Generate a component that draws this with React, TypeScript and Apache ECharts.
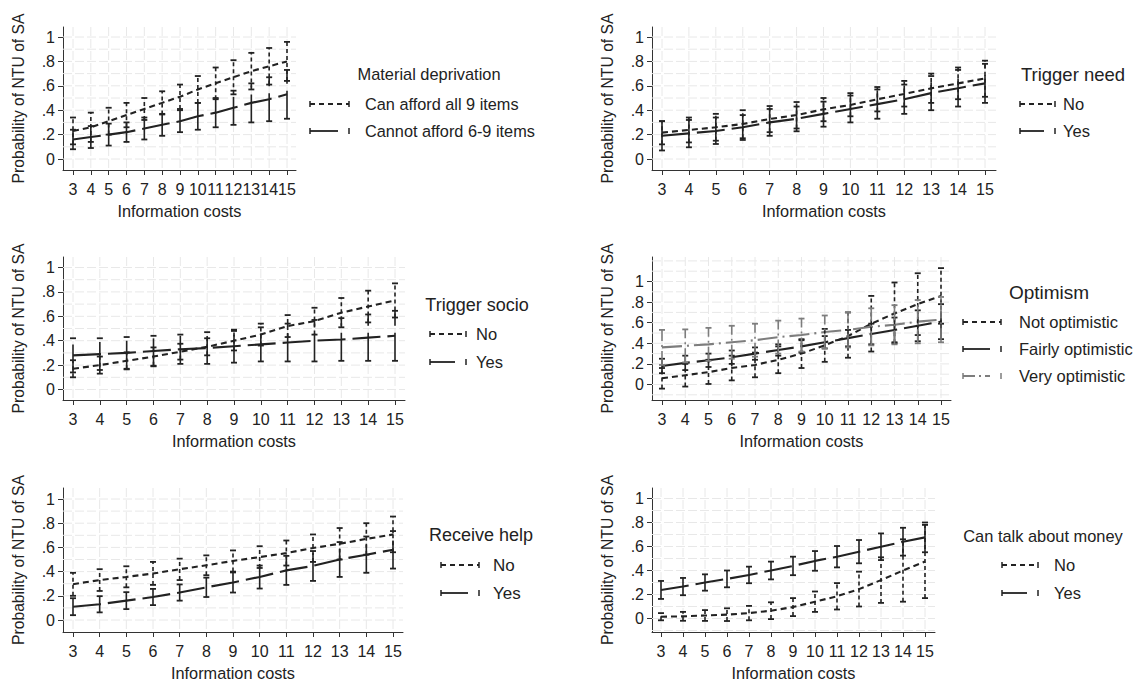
import React, { useEffect, useRef } from 'react';
import * as echarts from 'echarts';

// ---------- data ----------
const xValues = [3, 4, 5, 6, 7, 8, 9, 10, 11, 12, 13, 14, 15];
const yTickValues = [0, 0.2, 0.4, 0.6, 0.8, 1];

// Panel 1: Material deprivation
const p1AffordMid = [0.23, 0.26, 0.31, 0.36, 0.41, 0.46, 0.51, 0.57, 0.62, 0.67, 0.72, 0.76, 0.8];
const p1AffordLo = [0.12, 0.14, 0.2, 0.26, 0.32, 0.365, 0.41, 0.46, 0.49, 0.53, 0.57, 0.61, 0.64];
const p1AffordHi = [0.34, 0.38, 0.42, 0.46, 0.5, 0.555, 0.61, 0.68, 0.75, 0.81, 0.87, 0.91, 0.96];
const p1CannotMid = [0.16, 0.18, 0.2, 0.22, 0.25, 0.28, 0.31, 0.35, 0.38, 0.42, 0.46, 0.49, 0.53];
const p1CannotLo = [0.08, 0.09, 0.11, 0.14, 0.16, 0.19, 0.22, 0.24, 0.26, 0.28, 0.3, 0.31, 0.33];
const p1CannotHi = [0.24, 0.27, 0.29, 0.3, 0.34, 0.37, 0.4, 0.46, 0.5, 0.56, 0.62, 0.67, 0.73];

// Panel 2: Trigger need
const p2NoMid = [0.216, 0.238, 0.26, 0.287, 0.328, 0.36, 0.407, 0.443, 0.49, 0.533, 0.579, 0.62, 0.66];
const p2NoLo = [0.12, 0.136, 0.15, 0.17, 0.22, 0.25, 0.31, 0.35, 0.39, 0.43, 0.46, 0.49, 0.51];
const p2NoHi = [0.31, 0.34, 0.37, 0.4, 0.434, 0.467, 0.5, 0.54, 0.59, 0.64, 0.7, 0.75, 0.806];
const p2YesMid = [0.19, 0.21, 0.23, 0.26, 0.3, 0.33, 0.37, 0.41, 0.45, 0.49, 0.54, 0.58, 0.62];
const p2YesLo = [0.07, 0.096, 0.123, 0.156, 0.19, 0.227, 0.265, 0.3, 0.33, 0.37, 0.4, 0.43, 0.46];
const p2YesHi = [0.31, 0.32, 0.34, 0.36, 0.41, 0.43, 0.47, 0.52, 0.57, 0.61, 0.68, 0.73, 0.78];

// Panel 3: Trigger socio
const p3NoMid = [0.17, 0.2, 0.235, 0.27, 0.31, 0.35, 0.4, 0.45, 0.52, 0.56, 0.63, 0.68, 0.73];
const p3NoLo = [0.1, 0.13, 0.165, 0.195, 0.245, 0.28, 0.32, 0.36, 0.43, 0.45, 0.51, 0.55, 0.59];
const p3NoHi = [0.24, 0.27, 0.305, 0.345, 0.375, 0.42, 0.48, 0.54, 0.61, 0.67, 0.75, 0.81, 0.87];
const p3YesMid = [0.28, 0.29, 0.3, 0.315, 0.33, 0.34, 0.355, 0.37, 0.385, 0.4, 0.41, 0.425, 0.44];
const p3YesLo = [0.14, 0.16, 0.17, 0.19, 0.21, 0.21, 0.22, 0.23, 0.23, 0.23, 0.235, 0.235, 0.235];
const p3YesHi = [0.42, 0.42, 0.43, 0.44, 0.45, 0.47, 0.49, 0.51, 0.54, 0.57, 0.585, 0.615, 0.645];

// Panel 4: Optimism
const p4NotMid = [0.06, 0.09, 0.12, 0.16, 0.19, 0.24, 0.3, 0.38, 0.47, 0.59, 0.69, 0.78, 0.86];
const p4NotLo = [-0.04, -0.02, 0.005, 0.04, 0.07, 0.11, 0.16, 0.22, 0.26, 0.32, 0.4, 0.48, 0.59];
const p4NotHi = [0.16, 0.2, 0.24, 0.28, 0.31, 0.37, 0.44, 0.54, 0.7, 0.86, 0.99, 1.08, 1.13];
const p4FairMid = [0.18, 0.21, 0.235, 0.265, 0.3, 0.335, 0.37, 0.41, 0.45, 0.49, 0.53, 0.57, 0.61];
const p4FairLo = [0.11, 0.14, 0.17, 0.2, 0.24, 0.28, 0.31, 0.35, 0.37, 0.39, 0.41, 0.42, 0.44];
const p4FairHi = [0.25, 0.28, 0.3, 0.33, 0.36, 0.39, 0.43, 0.47, 0.53, 0.59, 0.65, 0.72, 0.78];
const p4VeryMid = [0.36, 0.375, 0.39, 0.41, 0.43, 0.46, 0.48, 0.51, 0.53, 0.56, 0.58, 0.61, 0.63];
const p4VeryLo = [0.19, 0.215, 0.23, 0.25, 0.27, 0.3, 0.32, 0.35, 0.36, 0.38, 0.39, 0.4, 0.41];
const p4VeryHi = [0.53, 0.535, 0.55, 0.57, 0.59, 0.62, 0.64, 0.67, 0.7, 0.74, 0.77, 0.82, 0.85];

// Panel 5: Receive help
const p5NoMid = [0.296, 0.33, 0.356, 0.384, 0.42, 0.452, 0.488, 0.52, 0.553, 0.595, 0.63, 0.67, 0.707];
const p5NoLo = [0.2, 0.24, 0.27, 0.29, 0.33, 0.37, 0.4, 0.43, 0.45, 0.48, 0.5, 0.54, 0.56];
const p5NoHi = [0.39, 0.42, 0.444, 0.48, 0.507, 0.534, 0.575, 0.61, 0.657, 0.707, 0.76, 0.8, 0.855];
const p5YesMid = [0.11, 0.13, 0.16, 0.19, 0.227, 0.27, 0.31, 0.356, 0.41, 0.447, 0.5, 0.54, 0.58];
const p5YesLo = [0.04, 0.063, 0.09, 0.123, 0.16, 0.19, 0.227, 0.26, 0.29, 0.323, 0.356, 0.39, 0.425];
const p5YesHi = [0.18, 0.197, 0.23, 0.257, 0.294, 0.35, 0.393, 0.45, 0.53, 0.57, 0.644, 0.69, 0.735];

// Panel 6: Can talk about money
const p6NoMid = [0.015, 0.018, 0.025, 0.032, 0.045, 0.065, 0.095, 0.14, 0.185, 0.245, 0.32, 0.4, 0.475];
const p6NoLo = [-0.015, -0.019, -0.02, -0.021, -0.015, -0.005, 0.02, 0.055, 0.075, 0.1, 0.13, 0.14, 0.17];
const p6NoHi = [0.045, 0.055, 0.07, 0.085, 0.105, 0.135, 0.17, 0.225, 0.295, 0.39, 0.51, 0.66, 0.78];
const p6YesMid = [0.238, 0.266, 0.3, 0.33, 0.363, 0.4, 0.438, 0.48, 0.515, 0.557, 0.598, 0.64, 0.676];
const p6YesLo = [0.163, 0.194, 0.232, 0.26, 0.294, 0.326, 0.361, 0.398, 0.426, 0.46, 0.487, 0.524, 0.552];
const p6YesHi = [0.313, 0.338, 0.368, 0.4, 0.432, 0.474, 0.515, 0.562, 0.604, 0.654, 0.709, 0.756, 0.8];

// ---------- styling ----------
const FONT = '"Liberation Sans", Arial, Helvetica, sans-serif';
const INK = '#222222';
const GRAY = '#7d7d7d';
const GRID_C = '#e8e8e8';

type Pattern = 'dash' | 'long' | 'ldot';
const linePatterns: Record<Pattern, number[]> = {
  dash: [6, 4],
  long: [28, 7],
  ldot: [20, 5, 2, 5],
};
const barPatterns: Record<Pattern, number[] | null> = {
  dash: [4, 3],
  long: [28, 7],
  ldot: [14, 4, 2, 4],
};

interface SeriesDef { name: string; mid: number[]; lo: number[]; hi: number[]; pattern: Pattern; color: string; }
interface PanelDef {
  title: string;
  series: SeriesDef[];
  geom: { px3: number; px15: number; py0: number; py1: number; left: number; right: number; top: number; bottom: number };
  legend: { titleX: number; titleY: number; titleSize: number; keyX1: number; keyX2: number; textX: number; itemY: number[]; textSize: number };
}

const panels: PanelDef[] = [
  {
    title: 'Material deprivation',
    series: [
      { name: 'Can afford all 9 items', mid: p1AffordMid, lo: p1AffordLo, hi: p1AffordHi, pattern: 'dash', color: INK },
      { name: 'Cannot afford 6-9 items', mid: p1CannotMid, lo: p1CannotLo, hi: p1CannotHi, pattern: 'long', color: INK },
    ],
    geom: { px3: 73, px15: 287, py0: 159, py1: 37, left: 63, right: 296, top: 27, bottom: 170 },
    legend: { titleX: 429, titleY: 74, titleSize: 16.4, keyX1: 310, keyX2: 349, textX: 365, itemY: [104, 131], textSize: 16.3 },
  },
  {
    title: 'Trigger need',
    series: [
      { name: 'No', mid: p2NoMid, lo: p2NoLo, hi: p2NoHi, pattern: 'dash', color: INK },
      { name: 'Yes', mid: p2YesMid, lo: p2YesLo, hi: p2YesHi, pattern: 'long', color: INK },
    ],
    geom: { px3: 662, px15: 985, py0: 159, py1: 37, left: 652, right: 996, top: 27, bottom: 170 },
    legend: { titleX: 1073, titleY: 74, titleSize: 18.5, keyX1: 1020, keyX2: 1055, textX: 1063, itemY: [104, 131], textSize: 16.5 },
  },
  {
    title: 'Trigger socio',
    series: [
      { name: 'No', mid: p3NoMid, lo: p3NoLo, hi: p3NoHi, pattern: 'dash', color: INK },
      { name: 'Yes', mid: p3YesMid, lo: p3YesLo, hi: p3YesHi, pattern: 'long', color: INK },
    ],
    geom: { px3: 73, px15: 395, py0: 389.5, py1: 267.5, left: 63, right: 405, top: 257, bottom: 400 },
    legend: { titleX: 477, titleY: 305, titleSize: 18, keyX1: 430, keyX2: 466, textX: 476, itemY: [334, 362], textSize: 16.5 },
  },
  {
    title: 'Optimism',
    series: [
      { name: 'Not optimistic', mid: p4NotMid, lo: p4NotLo, hi: p4NotHi, pattern: 'dash', color: INK },
      { name: 'Fairly optimistic', mid: p4FairMid, lo: p4FairLo, hi: p4FairHi, pattern: 'long', color: INK },
      { name: 'Very optimistic', mid: p4VeryMid, lo: p4VeryLo, hi: p4VeryHi, pattern: 'ldot', color: GRAY },
    ],
    geom: { px3: 662, px15: 941, py0: 384.5, py1: 281.5, left: 652, right: 951, top: 257, bottom: 400 },
    legend: { titleX: 1049, titleY: 292, titleSize: 19, keyX1: 963, keyX2: 1001, textX: 1019, itemY: [322, 349, 376], textSize: 16.5 },
  },
  {
    title: 'Receive help',
    series: [
      { name: 'No', mid: p5NoMid, lo: p5NoLo, hi: p5NoHi, pattern: 'dash', color: INK },
      { name: 'Yes', mid: p5YesMid, lo: p5YesLo, hi: p5YesHi, pattern: 'long', color: INK },
    ],
    geom: { px3: 73, px15: 393, py0: 620, py1: 499, left: 63, right: 403, top: 488, bottom: 632 },
    legend: { titleX: 481, titleY: 535, titleSize: 18, keyX1: 441, keyX2: 479, textX: 493, itemY: [565, 593], textSize: 17 },
  },
  {
    title: 'Can talk about money',
    series: [
      { name: 'No', mid: p6NoMid, lo: p6NoLo, hi: p6NoHi, pattern: 'dash', color: INK },
      { name: 'Yes', mid: p6YesMid, lo: p6YesLo, hi: p6YesHi, pattern: 'long', color: INK },
    ],
    geom: { px3: 661, px15: 925, py0: 618.5, py1: 498.5, left: 652, right: 935, top: 488, bottom: 632 },
    legend: { titleX: 1043, titleY: 536, titleSize: 16.4, keyX1: 1002, keyX2: 1038, textX: 1054, itemY: [565, 593], textSize: 16.5 },
  },
];

const fmtY = (v: number) => {
  if (Math.abs(v) < 1e-9) return '0';
  if (Math.abs(v - 1) < 1e-9) return '1';
  return v.toFixed(1).replace(/^0/, '').replace(/^-0/, '-');
};

function buildOption() {
  const grids: any[] = [];
  const xAxes: any[] = [];
  const yAxes: any[] = [];
  const series: any[] = [];
  const graphics: any[] = [];

  panels.forEach((p, i) => {
    const g = p.geom;
    const ppx = (g.px15 - g.px3) / 12;
    const ppy = g.py0 - g.py1;
    const xmin = 3 - (g.px3 - g.left) / ppx;
    const xmax = 15 + (g.right - g.px15) / ppx;
    const ymin = -(g.bottom - g.py0) / ppy;
    const ymax = 1 + (g.py1 - g.top) / ppy;

    grids.push({ left: g.left, top: g.top, width: g.right - g.left, height: g.bottom - g.top, outerBoundsMode: 'none', containLabel: false });
    xAxes.push({
      type: 'value', gridIndex: i, min: xmin, max: xmax,
      name: 'Information costs', nameLocation: 'middle', nameGap: 33,
      nameTextStyle: { fontFamily: FONT, fontSize: 16.3, color: INK },
      axisLine: { show: true, onZero: false, lineStyle: { color: '#333', width: 1 } },
      axisTick: { show: true, length: 5, customValues: xValues, lineStyle: { color: '#333' } },
      axisLabel: { customValues: xValues, margin: 11, fontFamily: FONT, fontSize: 16, color: INK, formatter: (v: number) => String(v) },
      splitLine: { show: false },
    });
    yAxes.push({
      type: 'value', gridIndex: i, min: ymin, max: ymax,
      name: 'Probability of NTU of SA', nameLocation: 'middle', nameGap: 37,
      nameTextStyle: { fontFamily: FONT, fontSize: 15.7, color: INK },
      axisLine: { show: true, onZero: false, lineStyle: { color: '#333', width: 1 } },
      axisTick: { show: true, length: 5, customValues: yTickValues, lineStyle: { color: '#333' } },
      axisLabel: { customValues: yTickValues, margin: 8, fontFamily: FONT, fontSize: 16, color: INK, formatter: fmtY },
      splitLine: { show: false },
    });

    // grid lines (vertical at each x value, horizontal every 0.1)
    const hVals: number[] = [];
    for (let k = Math.ceil(ymin * 10 - 1e-6); k <= Math.floor(ymax * 10 + 1e-6); k++) hVals.push(k / 10);
    series.push({
      type: 'custom', xAxisIndex: i, yAxisIndex: i, silent: true, z: 1,
      data: hVals.map((v) => [xmin, v]),
      renderItem: (params: any, api: any) => {
        const cs = params.coordSys;
        const pt = api.coord([api.value(0), api.value(1)]);
        return { type: 'line', shape: { x1: cs.x, y1: pt[1], x2: cs.x + cs.width, y2: pt[1] }, style: { stroke: GRID_C, lineWidth: 1, lineDash: [9, 3] } };
      },
    });
    series.push({
      type: 'custom', xAxisIndex: i, yAxisIndex: i, silent: true, z: 1,
      data: xValues.map((v) => [v, ymin]),
      renderItem: (params: any, api: any) => {
        const cs = params.coordSys;
        const pt = api.coord([api.value(0), api.value(1)]);
        return { type: 'line', shape: { x1: pt[0], y1: cs.y, x2: pt[0], y2: cs.y + cs.height }, style: { stroke: GRID_C, lineWidth: 1, lineDash: [9, 3] } };
      },
    });

    p.series.forEach((s) => {
      series.push({
        type: 'line', name: s.name, xAxisIndex: i, yAxisIndex: i, z: 3,
        data: xValues.map((x, k) => [x, s.mid[k]]),
        symbol: 'none', silent: true,
        lineStyle: { color: s.color, width: 2.1, type: linePatterns[s.pattern] },
      });
      const bp = barPatterns[s.pattern];
      series.push({
        type: 'custom', xAxisIndex: i, yAxisIndex: i, z: 4, silent: true,
        data: xValues.map((x, k) => [x, s.lo[k], s.hi[k]]),
        encode: { x: 0, y: [1, 2] },
        renderItem: (params: any, api: any) => {
          const x = api.value(0);
          const a = api.coord([x, api.value(1)]);
          const b = api.coord([x, api.value(2)]);
          const cw = 3;
          return {
            type: 'group',
            children: [
              { type: 'line', shape: { x1: a[0], y1: a[1], x2: b[0], y2: b[1] }, style: { stroke: s.color, lineWidth: 1.6, lineDash: bp || undefined } },
              { type: 'line', shape: { x1: a[0] - cw, y1: a[1], x2: a[0] + cw, y2: a[1] }, style: { stroke: s.color, lineWidth: 1.8 } },
              { type: 'line', shape: { x1: b[0] - cw, y1: b[1], x2: b[0] + cw, y2: b[1] }, style: { stroke: s.color, lineWidth: 1.8 } },
            ],
          };
        },
      });
    });

    // legend drawn as graphics
    const L = p.legend;
    graphics.push({
      type: 'text', x: L.titleX, y: L.titleY,
      style: { text: p.title, fontFamily: FONT, fontSize: L.titleSize, fill: INK, textAlign: 'center', align: 'center', textVerticalAlign: 'middle', verticalAlign: 'middle' },
    });
    p.series.forEach((s, j) => {
      const y = L.itemY[j];
      const solidish = s.pattern !== 'dash';
      const lineEnd = solidish ? L.keyX2 - 11 : L.keyX2;
      graphics.push({ type: 'line', shape: { x1: L.keyX1, y1: y, x2: lineEnd, y2: y }, style: { stroke: s.color, lineWidth: 1.8, lineDash: s.pattern === 'dash' ? [5, 4] : s.pattern === 'ldot' ? [12, 4, 2, 4] : null } });
      graphics.push({ type: 'line', shape: { x1: L.keyX1, y1: y - 3, x2: L.keyX1, y2: y + 3 }, style: { stroke: s.color, lineWidth: 1.5 } });
      graphics.push({ type: 'line', shape: { x1: L.keyX2, y1: y - 3, x2: L.keyX2, y2: y + 3 }, style: { stroke: s.color, lineWidth: 1.5 } });
      graphics.push({
        type: 'text', x: L.textX, y,
        style: { text: s.name, fontFamily: FONT, fontSize: L.textSize, fill: INK, textAlign: 'left', align: 'left', textVerticalAlign: 'middle', verticalAlign: 'middle' },
      });
    });
  });

  return {
    animation: false,
    backgroundColor: '#ffffff',
    textStyle: { fontFamily: FONT },
    grid: grids,
    xAxis: xAxes,
    yAxis: yAxes,
    series,
    graphic: { elements: graphics },
  };
}

export default function App() {
  const ref = useRef<HTMLDivElement>(null);
  useEffect(() => {
    if (!ref.current) return;
    const chart = echarts.init(ref.current, undefined, { renderer: 'svg' });
    chart.setOption(buildOption() as any);
    return () => chart.dispose();
  }, []);
  return <div ref={ref} style={{ position: 'fixed', left: 0, top: 0, width: 1135, height: 684, background: '#fff' }} />;
}
